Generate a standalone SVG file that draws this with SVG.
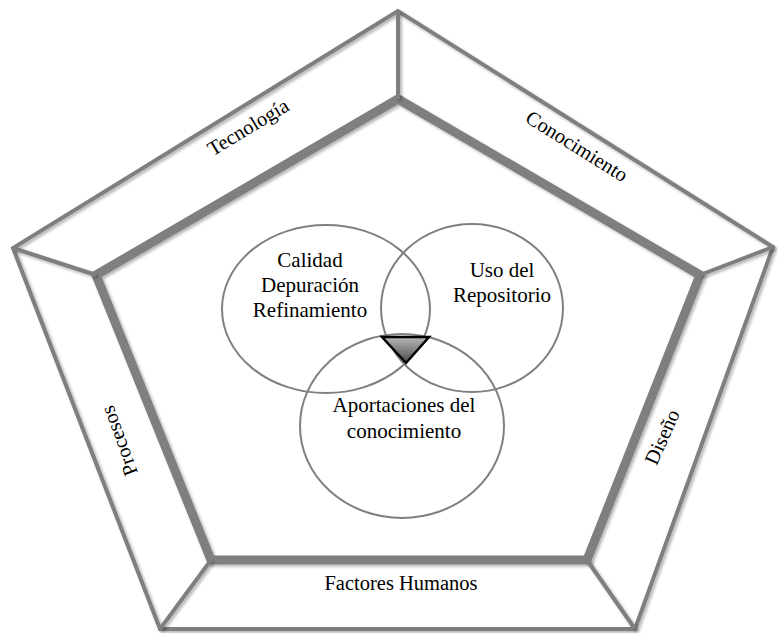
<svg xmlns="http://www.w3.org/2000/svg" width="778" height="633" viewBox="0 0 778 633">
<defs>
<filter id="sh" x="-5%" y="-5%" width="110%" height="110%">
<feGaussianBlur in="SourceAlpha" stdDeviation="1.5"/>
<feOffset dx="1.5" dy="2" result="b"/>
<feComponentTransfer><feFuncA type="linear" slope="0.3"/></feComponentTransfer>
<feMerge><feMergeNode/><feMergeNode in="SourceGraphic"/></feMerge>
</filter>
<linearGradient id="tg" x1="0" y1="0" x2="0" y2="1">
<stop offset="0" stop-color="#b8b8b8"/>
<stop offset="1" stop-color="#4a4a4a"/>
</linearGradient>
<style>
.frame{fill:none;stroke:#7f7f7f;stroke-linejoin:miter}
.outer{stroke-width:4}
.inner{stroke-width:9}
.spoke{stroke:#7f7f7f;stroke-width:4}
.c{fill:none;stroke:#808080;stroke-width:2}
text{font-family:'Liberation Serif','DejaVu Serif',serif;fill:#000;text-anchor:middle}
.side{font-size:20.5px}
.mid{font-size:21px}
</style>
</defs>
<rect width="778" height="633" fill="#fff"/>
<g id="frame" filter="url(#sh)">
<polygon class="frame outer" points="398,11 13,248 160,629 635,629 773,247"/>
<polygon class="frame inner" points="398,99 96,275 211,560 587,560 700,275"/>
</g>
<g id="connectors" filter="url(#sh)">
<line class="spoke" x1="398" y1="11" x2="398" y2="99"/>
<line class="spoke" x1="13" y1="248" x2="96" y2="275"/>
<line class="spoke" x1="773" y1="247" x2="700" y2="275"/>
<line class="spoke" x1="160" y1="629" x2="211" y2="560"/>
<line class="spoke" x1="635" y1="629" x2="587" y2="560"/>
</g>
<g id="labels" font-family="Liberation Serif, DejaVu Serif, serif">
<text class="side" transform="translate(248,127) rotate(-31)" dominant-baseline="central">Tecnología</text>
<text class="side" transform="translate(577,146) rotate(32)" dominant-baseline="central">Conocimiento</text>
<text class="side" transform="translate(119,441) rotate(-110)" dominant-baseline="central">Procesos</text>
<text class="side" transform="translate(662,437) rotate(-66)" dominant-baseline="central">Diseño</text>
<text class="side" x="401" y="590">Factores Humanos</text>
</g>
<g id="circle-calidad" font-family="Liberation Serif, DejaVu Serif, serif">
<ellipse class="c" cx="326" cy="309" rx="104" ry="84"/>
<text class="mid" x="310" y="267">Calidad</text>
<text class="mid" x="310" y="292">Depuración</text>
<text class="mid" x="310" y="317">Refinamiento</text>
</g>
<g id="circle-uso" font-family="Liberation Serif, DejaVu Serif, serif">
<ellipse class="c" cx="472" cy="308" rx="91" ry="84"/>
<text class="mid" x="502" y="277">Uso del</text>
<text class="mid" x="502" y="302">Repositorio</text>
</g>
<g id="circle-aportaciones" font-family="Liberation Serif, DejaVu Serif, serif">
<ellipse class="c" cx="402" cy="426" rx="102" ry="92"/>
<text class="mid" x="404" y="412">Aportaciones del</text>
<text class="mid" x="404" y="438">conocimiento</text>
</g>
<g id="triangle">
<polygon points="382,337 429,337 406,363" fill="url(#tg)" stroke="#000" stroke-width="2.5" stroke-linejoin="miter"/>
</g>
</svg>
